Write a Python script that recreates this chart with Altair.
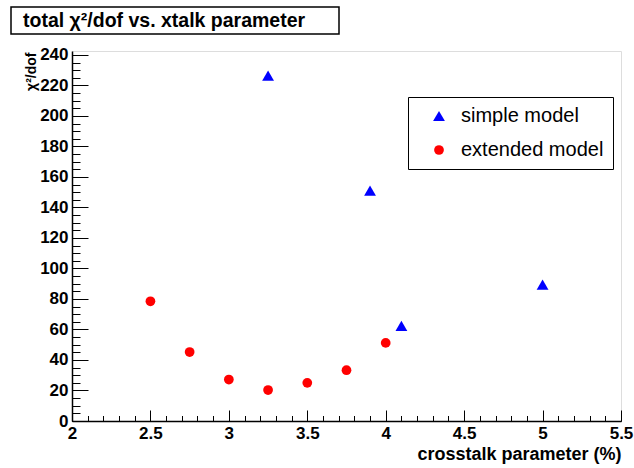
import altair as alt
import pandas as pd

# Total chi2/dof for each crosstalk parameter value (%), per fit model
simple_xtalk = [3.25, 3.9, 4.1, 5.0]
simple_chi2 = [226.4, 151.1, 62.3, 89.4]
extended_xtalk = [2.5, 2.75, 3.0, 3.25, 3.5, 3.75, 4.0]
extended_chi2 = [78.5, 45.2, 27.2, 20.3, 25.0, 33.3, 51.2]

models = ["simple model", "extended model"]
model_colors = ["#0000ff", "#ff0000"]
model_shapes = ["triangle-up", "circle"]
model_sizes = [140, 95]

x_major = [2, 2.5, 3, 3.5, 4, 4.5, 5, 5.5]
x_minor = [round(2 + 0.1 * i, 1) for i in range(36)]
y_major = [0, 20, 40, 60, 80, 100, 120, 140, 160, 180, 200, 220, 240]
y_minor = [5 * i for i in range(49)]

TITLE = "total \u03c7\u00b2/dof vs. xtalk parameter"
Y_TITLE = "\u03c7\u00b2/dof"
X_TITLE = "crosstalk parameter (%)"

W, H = 549, 370
X_DOMAIN = [2, 5.5]
Y_DOMAIN = [0, 242.6]
FONT = "Liberation Sans"

df = pd.DataFrame({
    "xtalk": simple_xtalk + extended_xtalk,
    "chi2": simple_chi2 + extended_chi2,
    "model": [models[0]] * len(simple_xtalk) + [models[1]] * len(extended_xtalk),
})


def xscale():
    return alt.Scale(domain=X_DOMAIN, nice=False, zero=False)


def yscale():
    return alt.Scale(domain=Y_DOMAIN, nice=False, zero=False)


legend = alt.Legend(
    title=None, orient="none", legendX=336, legendY=46,
    strokeColor="black", fillColor="white", padding=9,
    labelFont=FONT, labelFontSize=20, labelColor="black", labelLimit=300,
    symbolSize=110, symbolOffset=12, symbolStrokeWidth=0,
    labelOffset=12, rowPadding=14, cornerRadius=0,
)

points = alt.Chart(df).mark_point(filled=True, opacity=1, strokeWidth=0).encode(
    x=alt.X("xtalk:Q", scale=xscale(), axis=alt.Axis(
        orient="bottom", values=x_major, format="~g", ticks=False, tickSize=0,
        grid=False, domain=True, domainColor="black", domainWidth=1.5,
        labelFont=FONT, labelFontWeight="bold", labelFontSize=17, labelColor="black",
        labelPadding=4, labelOverlap=False, labelBound=False, labelFlush=False,
        title=X_TITLE, titleFont=FONT, titleFontWeight="bold", titleFontSize=18,
        titleColor="black", titleAnchor="end", titleAlign="right",
        titleX=W, titleY=38, titleBaseline="alphabetic",
    )),
    y=alt.Y("chi2:Q", scale=yscale(), axis=alt.Axis(
        orient="left", values=y_major, format="d", ticks=False, tickSize=0,
        grid=False, domain=True, domainColor="black", domainWidth=1.5,
        labelFont=FONT, labelFontWeight="bold", labelFontSize=17, labelColor="black",
        labelPadding=4, labelOverlap=False, labelBound=False, labelFlush=False,
        title=Y_TITLE, titleFont=FONT, titleFontWeight="bold", titleFontSize=14,
        titleColor="black", titleAngle=270, titleAnchor="end", titleAlign="right",
        titleX=-37, titleY=1, titleBaseline="alphabetic",
    )),
    color=alt.Color("model:N", scale=alt.Scale(domain=models, range=model_colors),
                    legend=legend),
    shape=alt.Shape("model:N", scale=alt.Scale(domain=models, range=model_shapes),
                    legend=legend),
    size=alt.Size("model:N", scale=alt.Scale(domain=models, range=model_sizes),
                  legend=None),
)


def tick_layer(xvals, yvals, xlen, ylen):
    """Invisible marks whose axes draw ROOT-style ticks pointing into the frame."""
    return alt.Chart(df).mark_point(opacity=0).encode(
        x=alt.X("xtalk:Q", scale=xscale(), axis=alt.Axis(
            values=xvals, orient="bottom", offset=-xlen, tickSize=xlen,
            tickColor="black", tickWidth=1, labels=False, domain=False,
            grid=False, title=None)),
        y=alt.Y("chi2:Q", scale=yscale(), axis=alt.Axis(
            values=yvals, orient="left", offset=-ylen, tickSize=ylen,
            tickColor="black", tickWidth=1, labels=False, domain=False,
            grid=False, title=None)),
    )


major_ticks = tick_layer(x_major, y_major, 11, 16)
minor_ticks = tick_layer(x_minor, y_minor, 5.5, 8)

title_df = pd.DataFrame({"label": [TITLE]})
title_box = alt.Chart(title_df).mark_rect(
    fill="white", stroke="black", strokeWidth=1.5
).encode(x=alt.value(-61), x2=alt.value(267), y=alt.value(-44), y2=alt.value(-17))
title_text = alt.Chart(title_df).mark_text(
    font=FONT, fontWeight="bold", fontSize=19.5, align="left", baseline="middle",
    color="black"
).encode(x=alt.value(-49), y=alt.value(-30), text="label:N")

chart = alt.layer(
    minor_ticks, major_ticks, points, title_box, title_text
).resolve_scale(
    x="independent", y="independent"
).properties(
    width=W, height=H,
    autosize=alt.AutoSizeParams(type="none"),
    padding={"left": 72, "top": 51, "right": 13, "bottom": 47},
).configure_view(
    stroke="black", strokeWidth=1
).configure(background="white")

chart.save("out.html", embed_options={"renderer": "svg", "actions": False})
